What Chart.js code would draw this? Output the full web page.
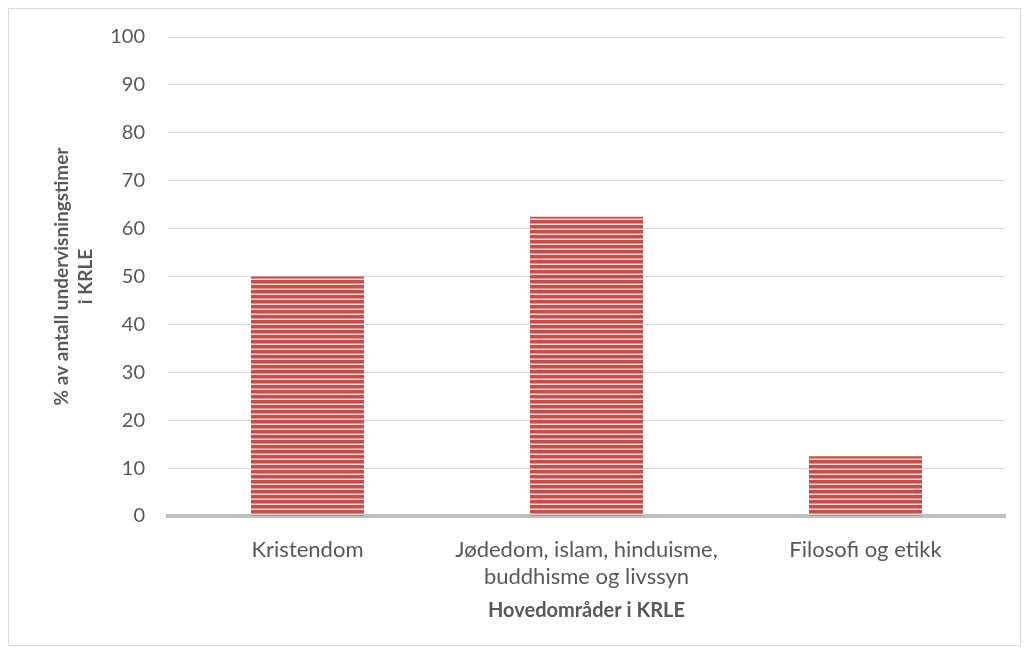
<!DOCTYPE html>
<html>
<head>
<meta charset="utf-8">
<script src="https://cdn.jsdelivr.net/npm/chart.js@4/dist/chart.umd.min.js"></script>
<style>
  html, body { margin: 0; padding: 0; background: #fff; }
  #wrap { position: relative; width: 1028px; height: 653px; }
  #frame { position: absolute; left: 8px; top: 8px; width: 1011px; height: 636px; border: 1px solid #d9d9d9; pointer-events: none; }
</style>
</head>
<body>
<div id="wrap">
  <canvas id="chart" width="1028" height="653"></canvas>
  <div id="frame"></div>
</div>
<script>
// Kategorier og verdier
const categories = [
  'Kristendom',
  ['Jødedom, islam, hinduisme,', 'buddhisme og livssyn'],
  'Filosofi og etikk'
];
const shares = [50, 62.5, 12.5];
const yTicks = [0, 10, 20, 30, 40, 50, 60, 70, 80, 90, 100];

const FONT = 'Lato, "Open Sans", sans-serif';

// Stripete fyll for søylene
function stripePattern() {
  const c = document.createElement('canvas');
  c.width = 8; c.height = 5;
  const g = c.getContext('2d');
  g.fillStyle = '#f0d2d1';
  g.fillRect(0, 0, 8, 5);
  g.fillStyle = '#c24f4c';
  g.fillRect(0, 0, 8, 3);
  g.fillStyle = '#dc918f';
  g.fillRect(0, 3, 8, 1);
  return g.createPattern(c, 'repeat');
}

const ctx = document.getElementById('chart').getContext('2d');

new Chart(ctx, {
  type: 'bar',
  data: {
    labels: categories,
    datasets: [{
      data: shares,
      backgroundColor: stripePattern(),
      borderWidth: 0,
      barPercentage: 0.405,
      categoryPercentage: 1
    }]
  },
  options: {
    responsive: false,
    animation: false,
    layout: { padding: { top: 37, right: 23, left: 50, bottom: 30 } },
    plugins: { legend: { display: false }, tooltip: { enabled: false } },
    scales: {
      x: {
        grid: { display: false, drawTicks: false },
        border: { color: '#bfbfbf', width: 4 },
        ticks: {
          color: '#595959',
          font: { family: FONT, size: 22, lineHeight: 1.23 },
          padding: 20,
          maxRotation: 0
        },
        title: {
          display: true,
          text: 'Hovedområder i KRLE',
          color: '#595959',
          font: { family: FONT, size: 20, weight: 'bold' },
          padding: { top: 0, bottom: 0 }
        },
        afterFit: s => { s.height = 653 - 516 - 30; }
      },
      y: {
        min: 0,
        max: 100,
        afterBuildTicks: s => { s.ticks = yTicks.map(v => ({ value: v })); },
        grid: { color: '#d9d9d9', lineWidth: 1, drawTicks: false },
        border: { display: false },
        ticks: {
          color: '#595959',
          font: { family: FONT, size: 20 },
          padding: 23
        },
        title: {
          display: true,
          text: ['% av antall undervisningstimer', 'i KRLE'],
          color: '#595959',
          font: { family: FONT, size: 19, weight: 'bold', lineHeight: 1.26 },
          padding: { top: 0, bottom: 0 }
        },
        afterFit: s => { s.width = 168 - 50; }
      }
    }
  }
});
</script>
</body>
</html>
